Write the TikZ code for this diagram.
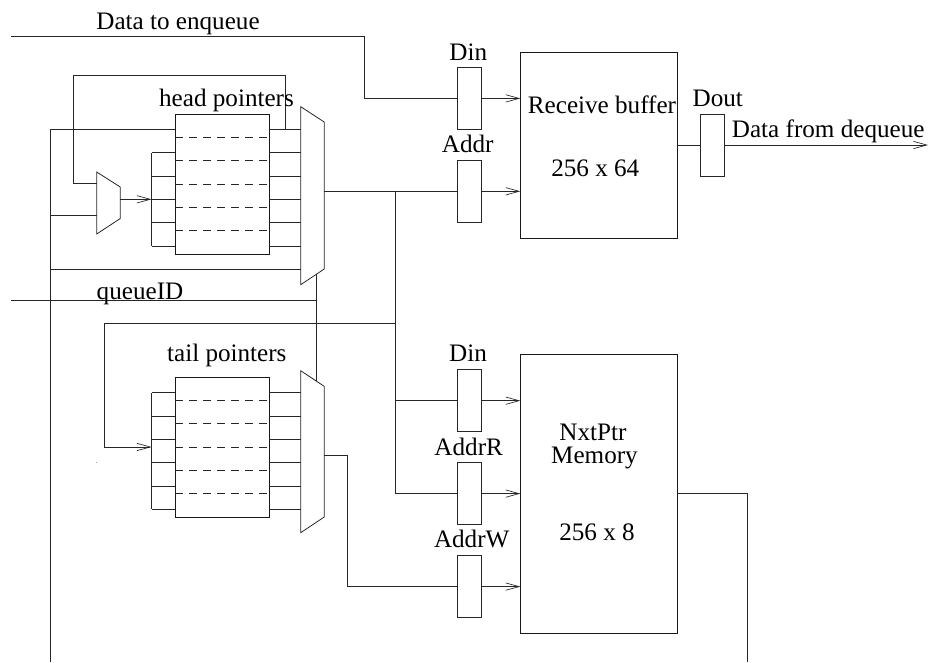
\documentclass[tikz,border=0pt]{standalone}
\usepackage{fontspec}
\setmainfont{Liberation Serif}
\usetikzlibrary{arrows.meta}
\tikzset{
  x=0.75pt,y=-0.75pt,
  wire/.style={line width=0.6pt,black!85},
  awire/.style={wire,-{Straight Barb[length=10pt,width=5.5pt,line width=0.5pt]}},
  latch/.style={draw=black!85,line width=0.6pt,rectangle,minimum width=17.7pt,minimum height=46.5pt,inner sep=0pt,outer sep=0pt},
  bigbox/.style={draw=black!90,line width=0.6pt,rectangle,inner sep=0pt,outer sep=0pt},
  ptrbox/.style={bigbox,minimum width=70.5pt,minimum height=105pt},
  lbl/.style={inner sep=0pt,anchor=base,font=\fontsize{18.85}{22}\selectfont},
  dashln/.style={wire,dash pattern=on 6pt off 4.5pt},
  mux/.style={wire,line join=miter}
}
\begin{document}
\begin{tikzpicture}
\useasboundingbox (0,0) rectangle (929,662);
% memories and latches
\node[bigbox,minimum width=117.5pt,minimum height=139.5pt] (rb) at (598.7,145) {};
\node[bigbox,minimum width=117.5pt,minimum height=209.25pt] (nm) at (598.7,493.8) {};
\node[latch] (din1) at (469.5,98.4) {};
\node[latch] (addr) at (469.5,191.3) {};
\node[latch] (dout) at (712.5,145) {};
\node[latch] (din2) at (469.3,400.7) {};
\node[latch] (addrr) at (469.3,493.6) {};
\node[latch] (addrw) at (469.3,586.6) {};
% pointer boxes
\node[ptrbox] (hp) at (222.3,184) {};
\node[ptrbox] (tp) at (222.3,447.2) {};
% muxes
\coordinate (ha) at (300.7,106.7); \coordinate (hb) at (324.2,122);
\coordinate (hc) at (324.2,269); \coordinate (hd) at (300.7,284.7);
\coordinate (ta) at (300.7,370.7); \coordinate (tb) at (324.2,386.3);
\coordinate (tc) at (324.2,517); \coordinate (td) at (300.7,532.7);
\coordinate (sa) at (96.7,172); \coordinate (sb) at (120.3,187);
\coordinate (sc) at (120.3,218.5); \coordinate (sd) at (96.7,234);
\draw[mux] (ha)--(hb)--(hc)--(hd)--cycle;
\draw[mux] (ta)--(tb)--(tc)--(td)--cycle;
\draw[mux] (sa)--(sb)--(sc)--(sd)--cycle;
% register rows
\foreach \n/\yy in {hp/129.5,hp/152.7,hp/176,hp/199.3,hp/222.3,hp/246,
                    tp/392.7,tp/416.3,tp/439.3,tp/462.7,tp/486,tp/509.3}{
  \draw[wire] (\n.east |- 0,\yy) -- (300.7,\yy);
}
\foreach \n/\yy in {hp/152.7,hp/176,hp/199.3,hp/222.3,hp/246,
                    tp/392.7,tp/416.3,tp/439.3,tp/462.7,tp/486,tp/509.3}{
  \draw[wire] (\n.west |- 0,\yy) -- (151.5,\yy);
}
\foreach \n/\yy in {hp/137,hp/160.7,hp/184,hp/207,hp/230,
                    tp/400.3,tp/423.7,tp/447,tp/470,tp/493.7}{
  \draw[dashln] (\n.west |- 0,\yy) -- (\n.east |- 0,\yy);
}
\coordinate (hl1) at (151.5,152.7); \coordinate (hl2) at (151.5,246);
\coordinate (tl1) at (151.5,392.7); \coordinate (tl2) at (151.5,509.3);
\draw[wire] (hl1) -- (hl2);
\draw[wire] (tl1) -- (tl2);
% head connections
\coordinate (hin) at (151.5,199.3);
\draw[awire] (120.3,199.3) -- (hin);
\coordinate (bot1) at (50,662);
\draw[wire] (hp.west |- 0,129.5) -- (50,129.5) -- (bot1);
\draw[wire] (50,215) -- (96.7,215);
\draw[wire] (50,269.3) -- (300.7,269.3);
\draw[wire] (285,129.5) -- (285,75.5) -- (73.5,75.5) -- (73.5,183.7) -- (96.7,183.7);
% data in
\coordinate (dstart) at (11,36.5);
\draw[wire] (dstart) -- (364,36.5) -- (364,98.4) -- (din1.west);
\draw[awire] (din1.east) -- (rb.west |- din1);
\draw[wire] (324.2,191.3) -- (addr.west);
\draw[awire] (addr.east) -- (rb.west |- addr);
\draw[wire] (rb.east |- dout) -- (dout.west);
\coordinate (dend) at (928,145);
\draw[awire] (dout.east) -- (dend);
% queueID
\coordinate (qstart) at (11,300);
\draw[wire] (qstart) -- (316.4,300);
\draw[wire] (316.4,274.2) -- (316.4,381);
% address bus
\draw[wire] (395,191.3) -- (395,493.6) -- (addrr.west);
\draw[wire] (395,400.7) -- (din2.west);
\draw[awire] (din2.east) -- (nm.west |- din2);
\draw[awire] (addrr.east) -- (nm.west |- addrr);
% tail connections
\draw[awire] (395,323.3) -- (104.7,323.3) -- (104.7,447) -- (151.5,447);
\draw[wire] (324.2,455) -- (347.7,455) -- (347.7,586.6) -- (addrw.west);
\draw[awire] (addrw.east) -- (nm.west |- addrw);
% memory output
\coordinate (bot2) at (747.7,662);
\draw[wire] (nm.east |- addrr) -- (747.7,493.6) -- (bot2);
% speck
\fill[black!35] (96.2,462.2) rectangle (97.4,463.4);
% labels
\node[lbl] (t1) at (178,29.3) {Data to enqueue};
\node[lbl] (t2) at (226.5,106) {head pointers};
\node[lbl] (t3) at (140,299.3) {queueID};
\node[lbl] (t4) at (226.8,361.7) {tail pointers};
\node[lbl] (t5) at (468.3,60) {Din};
\node[lbl] (t6) at (467.7,152.7) {Addr};
\node[lbl] (t7) at (602,113.3) {Receive buffer};
\node[lbl] (t8) at (595.3,176) {256 x 64};
\node[lbl] (t9) at (717.8,106) {Dout};
\node[lbl] (t10) at (828.2,137.3) {Data from dequeue};
\node[lbl] (t11) at (468,361.7) {Din};
\node[lbl] (t12) at (468.7,455) {AddrR};
\node[lbl] (t13) at (471.7,547.7) {AddrW};
\node[lbl] (t14) at (593,440) {NxtPtr};
\node[lbl] (t15) at (594.5,463.3) {Memory};
\node[lbl] (t16) at (597,540) {256 x 8};
\end{tikzpicture}
\end{document}
